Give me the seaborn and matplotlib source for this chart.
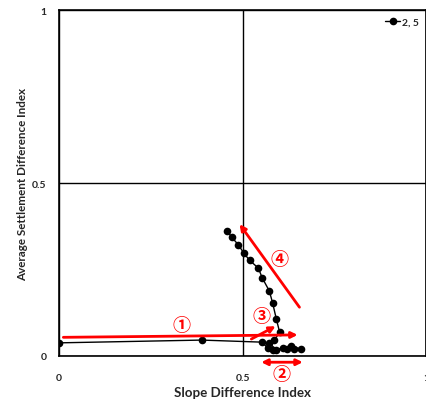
import matplotlib
matplotlib.use('Agg')
import matplotlib.pyplot as plt
import seaborn as sns
import pandas as pd

# trajectory values (slope index, settlement index)
slope_idx = [0.0, 0.389, 0.554, 0.568, 0.582, 0.609, 0.633, 0.658, 0.641, 0.620,
             0.592, 0.573, 0.587, 0.601, 0.592, 0.582, 0.573, 0.554, 0.543,
             0.519, 0.503, 0.489, 0.470, 0.459]
settle_idx = [0.038, 0.046, 0.040, 0.023, 0.017, 0.023, 0.029, 0.020, 0.020, 0.020,
              0.017, 0.038, 0.046, 0.069, 0.107, 0.153, 0.188, 0.225, 0.254,
              0.277, 0.298, 0.321, 0.344, 0.361]
series_name = '2, 5'

# annotation arrows: (x_start, y_start, x_end, y_end)
arrow1 = (0.012, 0.054, 0.65, 0.061)
arrow2 = (0.551, -0.018, 0.664, -0.018)
arrow3 = (0.524, 0.049, 0.590, 0.086)
arrow4 = (0.655, 0.141, 0.492, 0.381)
labels = ['①', '②', '③', '④']
label_pos = [(0.333, 0.092), (0.605, -0.052), (0.551, 0.116), (0.60, 0.282)]

df = pd.DataFrame({'x': slope_idx, 'y': settle_idx, 'series': series_name})

sns.set_style('white')
plt.rcParams['font.family'] = ['Lato', 'DejaVu Sans']

fig = plt.figure(figsize=(4.27, 4.06), dpi=100)
ax = fig.add_axes([0.138, 0.1207, 0.86, 0.852])

sns.lineplot(data=df, x='x', y='y', hue='series', sort=False, estimator=None,
             marker='o', markersize=5.5, markeredgewidth=0, color='black',
             palette=['black'], linewidth=1, ax=ax)

ax.set_xlim(0, 1)
ax.set_ylim(0, 1)
ax.set_xticks([0, 0.5, 1])
ax.set_yticks([0, 0.5, 1])
ax.set_xticklabels(['0', '0.5', '1'], fontweight='bold', fontsize=7.5)
ax.set_yticklabels(['0', '0.5', '1'], fontweight='bold', fontsize=7.5)
ax.tick_params(length=0, pad=9)
ax.tick_params(axis='x', pad=12)
ax.grid(True, color='black', linewidth=1)
ax.set_axisbelow(True)
for s in ax.spines.values():
    s.set_color('black')
    s.set_linewidth(1.2)

ax.set_xlabel('Slope Difference Index', fontweight='bold', fontsize=9.6, labelpad=3)
ax.set_ylabel('Average Settlement Difference Index', fontweight='bold', fontsize=8.4, labelpad=3)

leg = ax.legend(loc='upper right', frameon=False, handlelength=1.4, handletextpad=0.2,
                borderaxespad=0.3, prop={'weight': 'bold', 'size': 7.5})

red = '#ff0000'
for a, style in [(arrow1, '-|>'), (arrow2, '<|-|>'), (arrow3, '-|>'), (arrow4, '-|>')]:
    ax.annotate('', xy=(a[2], a[3]), xytext=(a[0], a[1]), annotation_clip=False,
                arrowprops=dict(arrowstyle=style, color=red, lw=2, mutation_scale=9,
                                shrinkA=0, shrinkB=0))
for lab, (lx, ly) in zip(labels, label_pos):
    ax.text(lx, ly, lab, color=red, fontsize=13, fontweight='bold', ha='center', va='center',
            family=['Noto Sans CJK JP', 'DejaVu Sans'], clip_on=False)

fig.savefig('out.png', dpi=100)
